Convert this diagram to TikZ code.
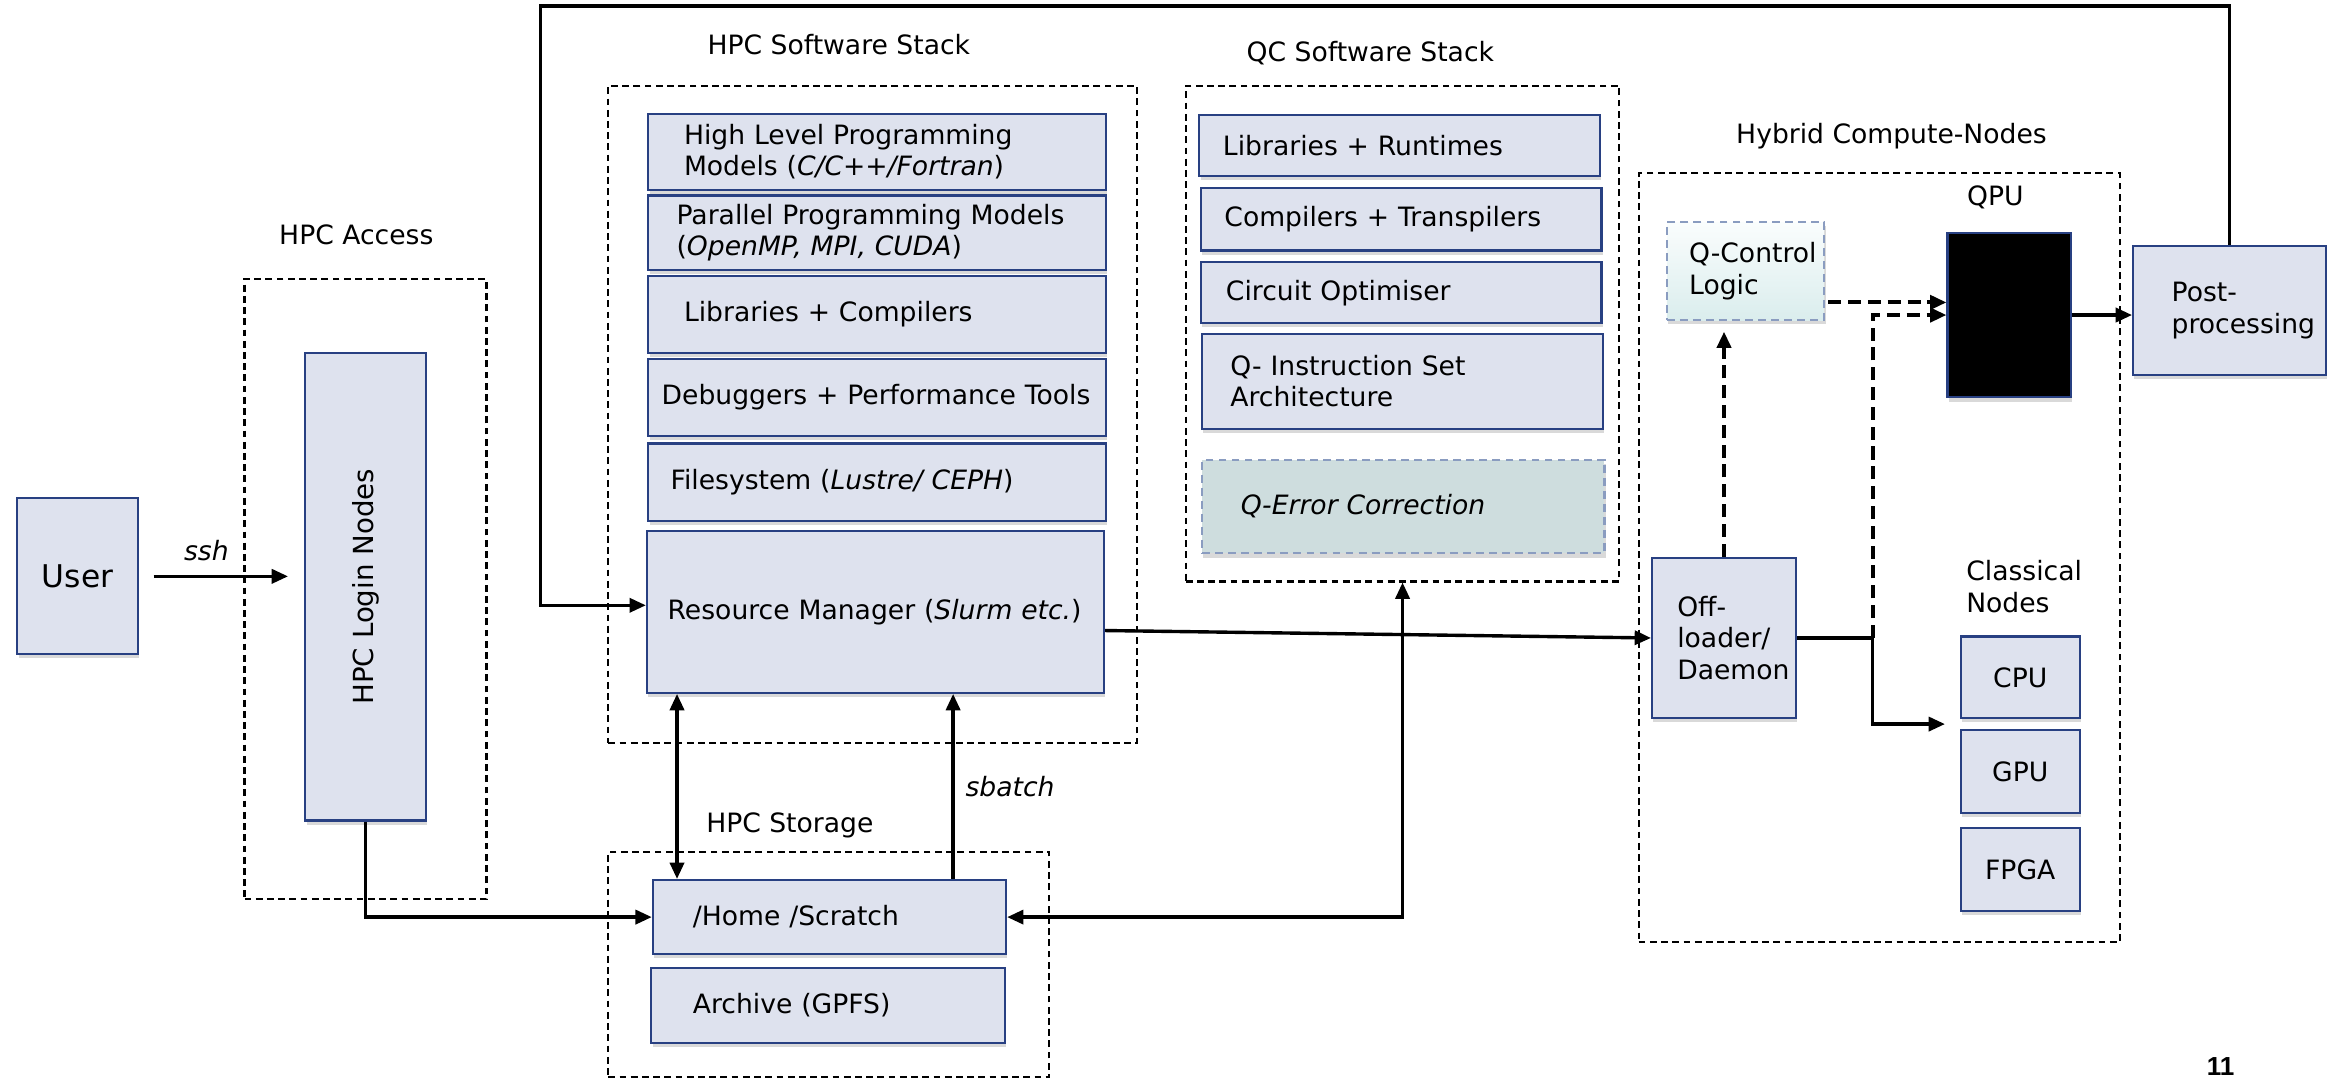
\documentclass[tikz,border=0pt]{standalone}
\usepackage{fontspec}
\setmainfont{DejaVu Sans}
\newfontfamily\pgnumfont{Liberation Sans}
\usepackage{graphicx}
\usetikzlibrary{arrows.meta,shadows,calc}
\hyphenpenalty=10000 \exhyphenpenalty=10000
\definecolor{bxf}{RGB}{222,226,238}
\definecolor{bxb}{RGB}{40,64,130}
\definecolor{qef}{RGB}{206,221,222}
\definecolor{qeb}{RGB}{138,156,192}
\definecolor{qtop}{RGB}{250,253,253}
\definecolor{qbot}{RGB}{218,237,237}
\newcommand{\fs}{\fontsize{10.2}{12}\selectfont}
\begin{document}
\begin{tikzpicture}[x=0.02cm,y=-0.02cm,
  box/.style={draw=bxb, fill=bxf, line width=0.8pt, anchor=north west, align=left,
    inner ysep=0pt, font=\fs,
    drop shadow={shadow xshift=0.5pt, shadow yshift=-1.6pt, opacity=0.3, fill=gray}},
  cbox/.style={box, align=center, inner xsep=0pt},
  grp/.style={draw, dash pattern=on 2.6pt off 1.7pt, line width=0.8pt, anchor=north west, inner sep=0pt},
  lbl/.style={font=\fs, inner sep=0pt},
  tip/.tip={Triangle[length=0.22cm,width=0.19cm]},
  arr/.style={line width=1.3pt, -tip},
  darr/.style={line width=1.3pt, tip-tip},
  dasharr/.style={arr, line width=1.5pt, dash pattern=on 5pt off 2.6pt},
  qdash/.style={draw=qeb, dash pattern=on 3pt off 2pt, line width=0.8pt}
]
\useasboundingbox (0,0) rectangle (1568,726);

% group frames
\node[grp, minimum width=3.26cm, minimum height=8.36cm] (acc) at (164,187) {};
\node[grp, minimum width=7.12cm, minimum height=8.86cm] (sw) at (409,57) {};
\node[grp, minimum width=5.84cm, minimum height=6.68cm] (qc) at (798,57) {};
\node[grp, minimum width=5.94cm, minimum height=3.04cm] (st) at (409,573) {};
\node[grp, minimum width=6.48cm, minimum height=10.36cm] (hy) at (1103,116) {};

% labels
\node[lbl] (lacc) at (240,158) {HPC Access};
\node[lbl] (lsw) at (565,30) {HPC Software Stack};
\node[lbl] (lqc) at (923,36) {QC Software Stack};
\node[lbl] (lhy) at (1274,92) {Hybrid Compute-Nodes};
\node[lbl] (lqpu) at (1344,133) {QPU};
\node[lbl, anchor=west, align=left] (lcl) at (1324,395) {Classical\\Nodes};
\node[lbl] (lst) at (532,556) {HPC Storage};
\node[lbl] (lssh) at (139,371) {\textit{ssh}};
\node[lbl, anchor=west] (lsb) at (650,530) {\textit{sbatch}};
\node[inner sep=0pt, anchor=north west, font=\pgnumfont\bfseries\fontsize{10}{12}\selectfont] (pg) at (1486,712) {11};

% access
\node[cbox, font=\fontsize{12}{14}\selectfont, minimum width=1.62cm, minimum height=2.1cm] (user) at (11,335) {User};
\node[cbox, font=\fontsize{10.6}{12}\selectfont, minimum width=1.62cm, minimum height=6.3cm] (login) at (205,237) {\rotatebox{90}{HPC Login Nodes}};

% HPC software stack
\node[box, inner xsep=0.48cm, text width=5.2cm, minimum height=1.02cm] (hl) at (436,76) {\mbox{High Level Programming}\\\mbox{Models (\textit{C/C++/Fortran})}};
\node[box, inner xsep=0.38cm, text width=5.4cm, minimum height=1.0cm] (pp) at (436,131) {\mbox{Parallel Programming Models}\\\mbox{(\textit{OpenMP, MPI, CUDA})}};
\node[box, inner xsep=0.48cm, text width=5.2cm, minimum height=1.04cm] (lc) at (436,185) {\mbox{Libraries + Compilers}};
\node[box, inner xsep=0.18cm, text width=5.8cm, minimum height=1.04cm] (db) at (436,241) {\mbox{Debuggers + Performance Tools}};
\node[box, inner xsep=0.3cm, text width=5.56cm, minimum height=1.04cm] (fs) at (436,298) {\mbox{Filesystem (\textit{Lustre/ CEPH})}};
\node[box, inner xsep=0.28cm, text width=5.6cm, minimum height=2.18cm] (rm) at (435,357) {\mbox{Resource Manager (\textit{Slurm etc.})}};

% storage
\node[box, inner xsep=0.54cm, text width=3.68cm, minimum height=1.0cm] (home) at (439,592) {\mbox{/Home /Scratch}};
\node[box, inner xsep=0.56cm, text width=3.64cm, minimum height=1.02cm] (arch) at (438,651) {\mbox{Archive (GPFS)}};

% QC software stack
\node[box, inner xsep=0.32cm, text width=4.76cm, minimum height=0.82cm] (lr) at (807,77) {\mbox{Libraries + Runtimes}};
\node[box, inner xsep=0.32cm, text width=4.76cm, minimum height=0.84cm] (ct) at (808,126) {\mbox{Compilers + Transpilers}};
\node[box, inner xsep=0.34cm, text width=4.72cm, minimum height=0.82cm] (co) at (808,176) {\mbox{Circuit Optimiser}};
\node[box, inner xsep=0.38cm, text width=4.64cm, minimum height=1.28cm] (isa) at (809,224) {\mbox{Q- Instruction Set}\\\mbox{Architecture}};
\node[box, qdash, fill=qef, inner xsep=0.52cm, text width=4.38cm, minimum height=1.26cm] (qec) at (809,309) {\mbox{\textit{Q-Error Correction}}};

% hybrid compute nodes
\node[box, qdash, top color=qtop, bottom color=qbot, inner xsep=0.3cm, text width=1.52cm, minimum height=1.32cm] (qcl) at (1122,149) {\mbox{Q-Control}\\\mbox{Logic}};
\node[cbox, fill=black, minimum width=1.66cm, minimum height=2.22cm] (qpu) at (1311,156) {};
\node[box, inner xsep=0.34cm, text width=1.26cm, minimum height=2.16cm] (off) at (1112,375) {\mbox{Off-}\\\mbox{loader/}\\\mbox{Daemon}};
\node[cbox, minimum width=1.6cm, minimum height=1.1cm] (cpu) at (1320,428) {CPU};
\node[cbox, minimum width=1.6cm, minimum height=1.12cm] (gpu) at (1320,491) {GPU};
\node[cbox, minimum width=1.6cm, minimum height=1.12cm] (fpga) at (1320,557) {FPGA};
\node[box, inner xsep=0.52cm, text width=1.56cm, minimum height=1.74cm] (post) at (1436,165) {\mbox{Post-}\\\mbox{processing}};

% connectors
\coordinate (tl) at (364,4);
\coordinate (rmin) at ([yshift=0.09cm]rm.west);
\draw[arr] (post.north) |- (tl) |- (rmin);
\coordinate (ussh) at ([xshift=0.2cm]user.east);
\coordinate (lssh2) at ([xshift=-0.22cm]login.west);
\draw[arr] (ussh) -- (ussh -| lssh2);
\draw[arr] (login.south) |- (home.west);
\coordinate (a1) at ([xshift=0.42cm]rm.south west);
\draw[darr] (a1) -- (a1 |- home.north);
\coordinate (sb) at ([xshift=4.06cm]home.north west);
\draw[arr] (sb) -- (sb |- rm.south);
\draw[darr] (home.east) -| (qc.south);
\coordinate (rmout) at ([yshift=-0.25cm]rm.east);
\draw[arr] (rmout) -- (off.west);
\draw[dasharr, shorten >=0.14cm] (off.north) -- (off.north |- qcl.south);
\coordinate (q1) at ([yshift=-0.42cm]qcl.east);
\draw[dasharr] ([xshift=0.04cm]q1) -- (q1 -| qpu.west);
\coordinate (j) at ([xshift=1.02cm]off.east);
\draw[dasharr] (j) |- (qpu.west);
\coordinate (cg) at ($(cpu.south west)!0.5!(gpu.north west)$);
\draw[arr, shorten >=0.2cm] (off.east) -- (j) |- (cg);
\draw[arr] (qpu.east) -- (qpu.east -| post.west);
\end{tikzpicture}
\end{document}
